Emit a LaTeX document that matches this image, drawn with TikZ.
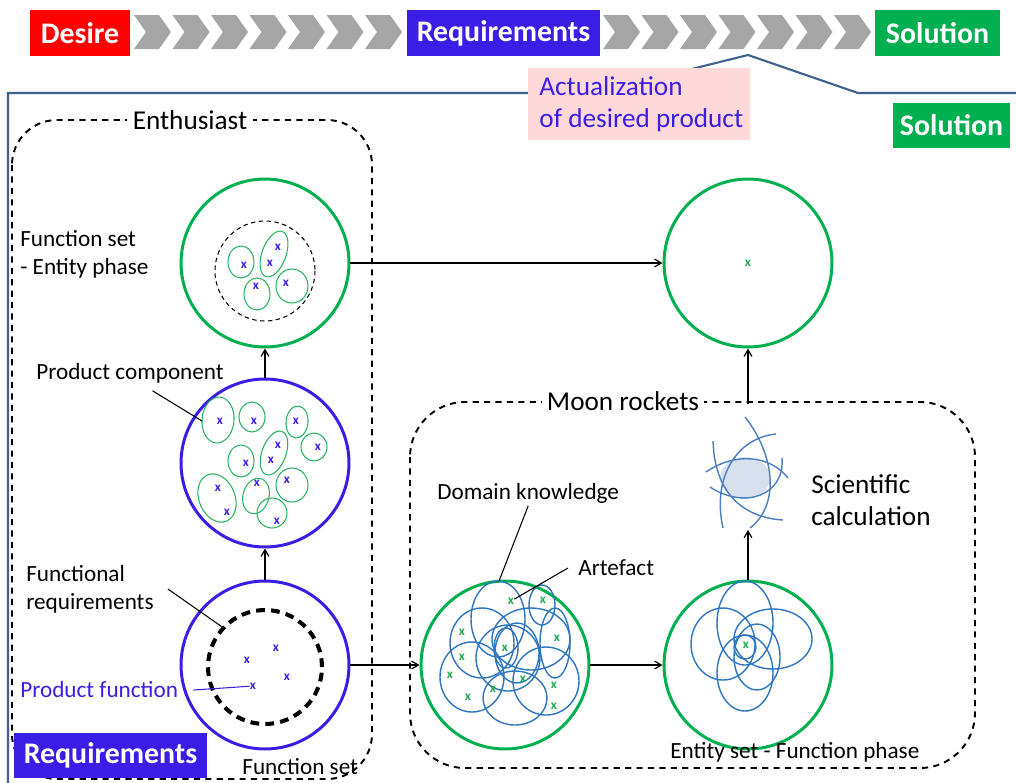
\documentclass[tikz,border=0pt]{standalone}
\usepackage{fontspec}
\setmainfont{Carlito}
\usepackage{tikz}
\usetikzlibrary{arrows, positioning, shapes.geometric}

\definecolor{reqblue}{RGB}{58,30,230}
\definecolor{solgreen}{RGB}{0,176,80}
\definecolor{setgreen}{RGB}{40,180,95}
\definecolor{crossgreen}{RGB}{30,170,80}
\definecolor{setblue}{RGB}{46,117,192}
\definecolor{calcblue}{RGB}{74,126,192}
\definecolor{calcfill}{RGB}{214,224,238}
\definecolor{frameblue}{RGB}{64,97,142}
\definecolor{notepink}{RGB}{255,216,218}
\definecolor{chevgray}{RGB}{166,166,166}

\tikzset{
	stagebox/.style={fill=#1, text=white, font=\fontsize{17}{20}\selectfont\bfseries,
		minimum height=0.92cm, inner sep=0pt},
	bigset/.style={circle, draw=#1, line width=1.7pt, minimum size=3.36cm, inner sep=0pt},
	cross/.style={text=#1, font=\fontsize{7.5}{8}\selectfont\bfseries, inner sep=0pt},
	lbl/.style={font=\fontsize{13.2}{16}\selectfont, inner sep=0pt, align=left},
	biglbl/.style={font=\fontsize{15.5}{18}\selectfont, inner sep=0pt, align=left},
	groupbox/.style={draw, line width=1.1pt, dash pattern=on 3.5pt off 3pt},
	minorset/.style={setgreen, line width=0.6pt},
	knowset/.style={setblue, line width=0.8pt},
	calcarc/.style={calcblue, line width=0.8pt}
}

\begin{document}
\begin{tikzpicture}[x=0.02cm, y=-0.02cm, >=angle 60, thin]
	\useasboundingbox (0,0) rectangle (1016,782);

	% stage bar
	\node[stagebox=red, minimum width=2cm] (des) at (80,33) {Desire};
	\node[stagebox=reqblue, minimum width=3.86cm] (req) at (503.5,33) {Requirements};
	\node[stagebox=solgreen, minimum width=2.5cm] (slt) at (937.5,33) {Solution};
	\foreach \s in {134,603}
		\foreach \k in {0,...,6}
			\fill[chevgray] ({\s+38.5*\k},15) -- ++(25,0) -- ++(12,17) -- ++(-12,17) -- ++(-25,0) -- ++(12,-17) -- cycle;

	% frame with pointer
	\draw[frameblue, line width=1.2pt] (8,790) -- (8,93) -- (595,93) -- (748,55) -- (858,93) -- (1020,93);
	\node[fill=notepink, minimum width=4.44cm, minimum height=1.44cm] (act) at (639,104) {};
	\node[biglbl, text=reqblue, anchor=west] (actl) at ([xshift=6.5pt]act.west) {Actualization\\of desired product};
	\node[stagebox=solgreen, minimum width=2.34cm, minimum height=0.9cm] (sl2) at (951.5,125.5) {Solution};

	% groups
	\draw[groupbox, rounded corners=0.9cm] (12,120) rectangle (372,779);
	\draw[groupbox, rounded corners=1.1cm] (410,402) rectangle (975,768);
	\node[biglbl, fill=white, inner xsep=3pt] (ent) at (190,120) {Enthusiast};
	\node[biglbl, fill=white, inner xsep=3pt] (moon) at (623,401) {Moon rockets};
	\node[stagebox=reqblue, minimum width=3.86cm, minimum height=0.9cm] (rq2) at (110.5,755.5) {Requirements};

	% sets
	\node[bigset=solgreen] (fse) at (265,263) {};
	\node[bigset=reqblue] (prc) at (265,463) {};
	\node[bigset=reqblue] (frq) at (265,665) {};
	\node[bigset=solgreen] (sol) at (748,263) {};
	\node[bigset=solgreen] (dom) at (505,665) {};
	\node[bigset=solgreen] (efp) at (748,665) {};
	\node[minimum width=2cm, minimum height=2.5cm, inner sep=0pt] (sci) at (748,467) {};

	% function set - entity phase
	\draw[line width=0.6pt, dash pattern=on 2.5pt off 2pt] (265,271) circle (50);
	\foreach \cx/\cy/\rx/\ry/\a in {241/262/13/16/0, 274/254/12/24/-20, 257/294/13/16/0, 292/286/16/17/0}
		\draw[minorset, rotate around={\a:(\cx,\cy)}] (\cx,\cy) ellipse [x radius=\rx, y radius=\ry];
	\foreach \cx/\cy [count=\i] in {244/265, 278/247, 270/263, 256/286, 286/283}
		\node[cross=reqblue] (fx\i) at (\cx,\cy) {x};

	% product components
	\foreach \cx/\cy/\rx/\ry/\a in {218/420/16/23/-5, 252/417/13/15/0, 297/422/11/16/-5, 314/447/13/14/0,
			241/461/13/16/0, 274/453/12/23/-20, 292/485/16/17/0, 217/498/18/25/22, 256/496/13/18/-15, 272/513/15/15/0}
		\draw[minorset, rotate around={\a:(\cx,\cy)}] (\cx,\cy) ellipse [x radius=\rx, y radius=\ry];
	\foreach \cx/\cy [count=\i] in {220/421, 254/421, 296/421, 318/447, 278/445, 271/460,
			246/463, 287/480, 257/483, 218/488, 227/512, 277/521}
		\node[cross=reqblue] (cx\i) at (\cx,\cy) {x};
	\coordinate (pce) at (202,421);

	% functional requirements
	\node[circle, draw, line width=2.3pt, dash pattern=on 5pt off 3.5pt, minimum size=2.28cm] (fnc) at (265,667) {};
	\foreach \cx/\cy [count=\i] in {276/648, 247/660, 287/677, 253/686}
		\node[cross=reqblue] (px\i) at (\cx,\cy) {x};

	% domain knowledge
	\foreach \cx/\cy/\rx/\ry in {498/619/27/38, 542/605/13/20, 482/643/32/35, 531/639/39/31, 555/643/15/35,
			506/648/12/20, 472/677/32/35, 508/658/32/33, 515/698/32/27, 546/681/33/34, 517/653/22/30}
		\draw[knowset] (\cx,\cy) ellipse [x radius=\rx, y radius=\ry];
	\foreach \cx/\cy [count=\i] in {511/601, 543/600, 462/632, 557/638, 505/648, 462/657,
			450/675, 523/679, 554/685, 493/689, 468/697, 554/706}
		\node[cross=crossgreen] (dx\i) at (\cx,\cy) {x};
	\coordinate (dke) at (499,581);

	% entity set - function phase
	\foreach \cx/\cy/\rx/\ry in {745/623/28/42, 723/644/32/36, 773/639/39/30, 745/673/28/38, 757/657/23/33, 745/647/11/12}
		\draw[knowset] (\cx,\cy) ellipse [x radius=\rx, y radius=\ry];
	\node[cross=crossgreen] (ex1) at (746,645) {x};

	% solution
	\node[cross=crossgreen] (sx1) at (748,263) {x};

	% scientific calculation
	\fill[calcfill] (745,478) ellipse [x radius=25, y radius=21];
	\draw[calcarc] (745,417) .. controls (775,455) and (780,505) .. (750,528);
	\draw[calcarc] (776,434) .. controls (735,438) and (712,480) .. (723,528);
	\draw[calcarc] (713,441) .. controls (715,500) and (750,518) .. (783,520);
	\draw[calcarc] (706,472) .. controls (735,452) and (770,455) .. (788,478);
	\draw[calcarc] (710,487) .. controls (745,510) and (785,495) .. (782,458);

	% labels
	\node[lbl, anchor=west] (fsl) at (20,254) {Function set\\- Entity phase};
	\node[lbl, anchor=west] (pcl) at (36,373) {Product component};
	\node[lbl, anchor=west] (frl) at (26,589) {Functional\\requirements};
	\node[lbl, anchor=west, text=reqblue] (pfl) at (20,690) {Product function};
	\node[lbl, anchor=west] (dkl) at (437,493) {Domain knowledge};
	\node[lbl, anchor=west] (arl) at (578,568) {Artefact};
	\node[biglbl, anchor=west] (scl) at (811,500) {Scientific\\calculation};
	\node[lbl, anchor=west] (efl) at (670,752) {Entity set - Function phase};
	\node[lbl, anchor=west] (fnl) at (242,767) {Function set};

	% leaders
	\draw[line width=0.6pt] ([xshift=0.45cm, yshift=-0.15cm]pcl.south) -- (pce);
	\draw[line width=0.6pt] ([xshift=0.28cm]frl.east) -- (fnc.137);
	\draw[reqblue, line width=0.6pt] ([xshift=0.3cm]pfl.east) -- (px4);
	\draw[line width=0.6pt] ([yshift=-0.05cm]dkl.south) -- (dke);
	\draw[line width=0.6pt] ([xshift=-0.2cm]arl.west) -- (dx1);

	% flow
	\draw[->, line width=0.7pt] (frq) -- (prc);
	\draw[->, line width=0.7pt] (prc) -- (fse);
	\draw[->, line width=0.7pt] (fse) -- (sol);
	\draw[->, line width=0.7pt] (frq) -- (dom);
	\draw[->, line width=0.7pt] (dom) -- (efp);
	\draw[->, line width=0.7pt] (efp) -- (sci);
	\draw[->, line width=0.7pt] (sci) -- (sol);
\end{tikzpicture}
\end{document}
